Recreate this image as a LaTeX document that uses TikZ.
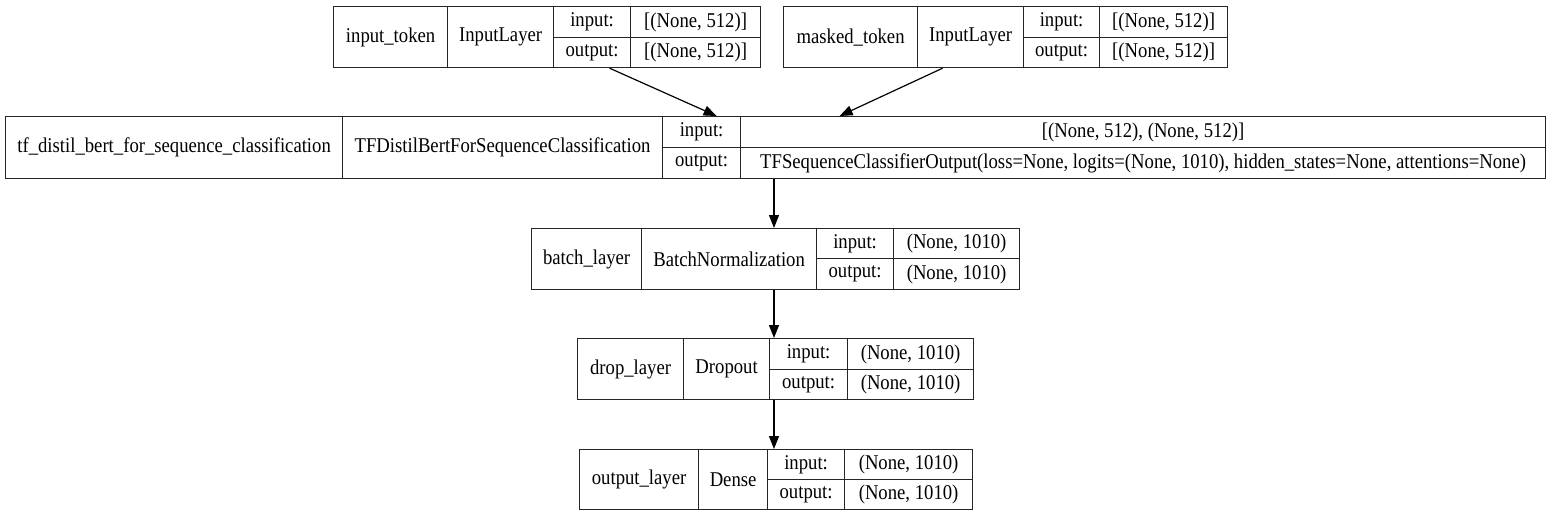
\documentclass[tikz,border=0pt]{standalone}
\usepackage{fontspec}
\setmainfont{Liberation Serif}[FakeStretch=0.89]
\usetikzlibrary{arrows.meta,calc}
\begin{document}
\begin{tikzpicture}[x=1pt,y=-1pt,
  cell/.style={draw=black!85,line width=1.2pt,inner sep=0pt,anchor=north west,
    font=\fontsize{21}{24}\selectfont},
  arr/.style={line width=1.2pt,-{Triangle[length=13pt,width=10pt]}}]
\useasboundingbox[fill=white] (0,0) rectangle (1551,516);
% input_token
\node[cell,minimum width=114,minimum height=61] (b1n) at (333,6) {input\_token};
\node[cell,minimum width=106,minimum height=61] (b1c) at (447,6) {InputLayer};
\node[cell,minimum width=77,minimum height=31] (b1il) at (553,6) {input:};
\node[cell,minimum width=130,minimum height=31] (b1iv) at (630,6) {[(None, 512)]};
\node[cell,minimum width=77,minimum height=30] (b1ol) at (553,37) {output:};
\node[cell,minimum width=130,minimum height=30] (b1ov) at (630,37) {[(None, 512)]};
% masked_token
\node[cell,minimum width=134,minimum height=61] (b2n) at (783,6) {masked\_token};
\node[cell,minimum width=106,minimum height=61] (b2c) at (917,6) {InputLayer};
\node[cell,minimum width=76,minimum height=31] (b2il) at (1023,6) {input:};
\node[cell,minimum width=128,minimum height=31] (b2iv) at (1099,6) {[(None, 512)]};
\node[cell,minimum width=76,minimum height=30] (b2ol) at (1023,37) {output:};
\node[cell,minimum width=128,minimum height=30] (b2ov) at (1099,37) {[(None, 512)]};
% distilbert
\node[cell,minimum width=337,minimum height=62] (b3n) at (5,116) {tf\_distil\_bert\_for\_sequence\_classification};
\node[cell,minimum width=320,minimum height=62] (b3c) at (342,116) {TFDistilBertForSequenceClassification};
\node[cell,minimum width=78,minimum height=31] (b3il) at (662,116) {input:};
\node[cell,minimum width=805,minimum height=31] (b3iv) at (740,116) {[(None, 512), (None, 512)]};
\node[cell,minimum width=78,minimum height=31] (b3ol) at (662,147) {output:};
\node[cell,minimum width=805,minimum height=31] (b3ov) at (740,147) {TFSequenceClassifierOutput(loss=None, logits=(None, 1010), hidden\_states=None, attentions=None)};
% batch_layer
\node[cell,minimum width=110,minimum height=61] (b4n) at (531,228) {batch\_layer};
\node[cell,minimum width=175,minimum height=61] (b4c) at (641,228) {BatchNormalization};
\node[cell,minimum width=77,minimum height=30] (b4il) at (816,228) {input:};
\node[cell,minimum width=126,minimum height=30] (b4iv) at (893,228) {(None, 1010)};
\node[cell,minimum width=77,minimum height=31] (b4ol) at (816,258) {output:};
\node[cell,minimum width=126,minimum height=31] (b4ov) at (893,258) {(None, 1010)};
% drop_layer
\node[cell,minimum width=106,minimum height=61] (b5n) at (577,338) {drop\_layer};
\node[cell,minimum width=86,minimum height=61] (b5c) at (683,338) {Dropout};
\node[cell,minimum width=78,minimum height=31] (b5il) at (769,338) {input:};
\node[cell,minimum width=126,minimum height=31] (b5iv) at (847,338) {(None, 1010)};
\node[cell,minimum width=78,minimum height=30] (b5ol) at (769,369) {output:};
\node[cell,minimum width=126,minimum height=30] (b5ov) at (847,369) {(None, 1010)};
% output_layer
\node[cell,minimum width=119,minimum height=60] (b6n) at (579,449) {output\_layer};
\node[cell,minimum width=69,minimum height=60] (b6c) at (698,449) {Dense};
\node[cell,minimum width=77,minimum height=30] (b6il) at (767,449) {input:};
\node[cell,minimum width=128,minimum height=30] (b6iv) at (844,449) {(None, 1010)};
\node[cell,minimum width=77,minimum height=30] (b6ol) at (767,479) {output:};
\node[cell,minimum width=128,minimum height=30] (b6ov) at (844,479) {(None, 1010)};
% connectors
\coordinate (spine) at (774,0);
\draw[arr] ([xshift=17.5]b1ol.south) -- ([xshift=15]b3il.north);
\draw[arr] ([xshift=-28]b2c.south) -- ([xshift=-303.5]b3iv.north);
\draw[arr] (b3ov.south -| spine) -- (b4c.north -| spine);
\draw[arr] (b4c.south -| spine) -- (b5c.north -| spine);
\draw[arr] (b5c.south -| spine) -- (b6il.north -| spine);
\end{tikzpicture}
\end{document}
